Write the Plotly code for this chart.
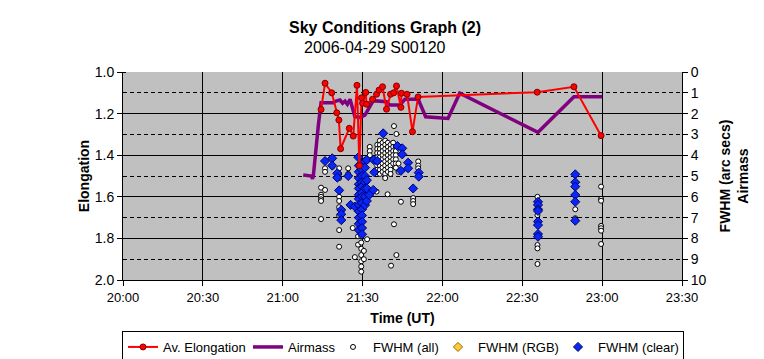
import pandas as pd
import plotly.graph_objects as go

DATE = "2006-04-29 "

title_text = "Sky Conditions Graph (2)"
subtitle_text = "2006-04-29 S00120"
x_tick_labels = ["20:00", "20:30", "21:00", "21:30", "22:00", "22:30", "23:00", "23:30"]

# Av. Elongation (left axis)
elong_time = ["21:14:24", "21:15:54", "21:18:24", "21:20:18", "21:21:06", "21:21:45", "21:25:00",
              "21:26:30", "21:27:54", "21:28:48", "21:29:36", "21:30:00", "21:31:12", "21:31:30",
              "21:33:45", "21:35:15", "21:36:12", "21:37:30", "21:39:00", "21:40:30", "21:41:42",
              "21:42:45", "21:44:24", "21:44:36", "21:46:42", "21:48:45", "21:50:51", "22:35:36",
              "22:49:24", "22:59:36"]
elong_value = [1.18, 1.054, 1.10, 1.196, 1.231, 1.369, 1.271,
               1.308, 1.064, 1.45, 1.124, 1.15, 1.098, 1.155,
               1.131, 1.107, 1.087, 1.071, 1.179, 1.107, 1.10,
               1.067, 1.17, 1.102, 1.107, 1.287, 1.12, 1.097,
               1.071, 1.306]

# Airmass (right axis)
airmass_time = ["21:07:42", "21:10:48", "21:11:12", "21:11:30", "21:13:24", "21:14:24", "21:19:00",
                "21:20:00", "21:21:30", "21:22:30", "21:23:24", "21:24:18", "21:25:18", "21:27:06",
                "21:29:00", "21:30:54", "21:34:00", "21:39:00", "21:40:12", "21:44:00", "21:45:54",
                "21:50:54", "21:53:42", "22:02:06", "22:06:30", "22:35:54", "22:49:24", "23:00:00"]
airmass_value = [4.95, 5.0, 5.14, 5.0, 2.55, 1.48, 1.48,
                 1.40, 1.35, 1.50, 1.40, 1.55, 1.31, 2.15,
                 2.18, 2.07, 1.38, 1.43, 1.59, 1.59, 1.31,
                 1.31, 2.15, 2.23, 1.02, 2.9, 1.19, 1.19]

# FWHM (all) - grouped by exposure time
fwhm_all_times = ["21:14:24", "21:15:54", "21:18:36", "21:21:12", "21:24:36", "21:26:18", "21:27:06",
                  "21:28:18", "21:29:30", "21:30:30", "21:31:42", "21:32:42", "21:35:30", "21:36:30",
                  "21:37:30", "21:38:30", "21:39:30", "21:40:30", "21:41:30", "21:42:30", "21:43:30",
                  "21:41:48", "21:42:42", "21:50:54", "21:49:00", "21:44:24", "21:40:42", "21:39:24",
                  "21:35:15", "22:35:42", "22:49:54", "22:59:36"]
fwhm_all_values = [
    [5.56, 5.90, 6.00, 6.12, 6.20, 7.07],
    [4.63, 4.80, 5.67],
    [4.55],
    [4.63, 4.90, 5.10, 6.00, 6.20, 6.50, 6.90, 7.60, 8.40],
    [4.63, 4.90],
    [7.50],
    [8.90],
    [7.90, 8.30],
    [4.3, 4.6, 4.9, 5.2, 5.5, 5.8, 6.1, 6.4, 6.7, 7.0, 7.3, 7.6, 7.9, 8.2, 8.5, 8.8, 9.1, 9.35, 9.6],
    [8.60, 9.00],
    [8.04],
    [3.60, 3.80, 4.00],
    [3.5, 3.7, 3.9, 4.1, 4.3, 4.5, 4.7],
    [3.3, 3.5, 3.7, 3.9, 4.1, 4.3, 4.5, 4.7, 4.9],
    [3.4, 3.6, 3.8, 4.0, 4.2, 4.4, 4.6, 4.8],
    [3.3, 3.5, 3.7, 3.9, 4.1, 4.3, 4.5, 4.7, 4.9, 5.1],
    [3.4, 3.6, 3.8, 4.0, 4.2, 4.4, 4.6, 4.8],
    [3.5, 3.7, 3.9, 4.1, 4.3, 4.5, 4.7, 4.9],
    [3.4, 3.6, 3.8, 4.0, 4.2, 4.4],
    [3.6, 3.8, 4.0, 4.2, 4.4, 4.6],
    [4.4, 4.8],
    [2.60, 7.32],
    [2.98, 8.80],
    [4.30, 4.50, 4.63],
    [6.06, 6.20, 6.35],
    [6.24],
    [9.31],
    [5.88],
    [5.75],
    [6.00, 6.88, 8.32, 8.48, 9.23],
    [6.60, 7.03],
    [5.51, 6.10, 6.19, 7.40, 7.51, 7.63, 8.27],
]

# FWHM (RGB) - no measurements in this run (legend entry only)
fwhm_rgb_times = [None]
fwhm_rgb_values = [None]

# FWHM (clear)
fwhm_clear_times = ["21:15:54", "21:18:36", "21:20:30", "21:24:36", "21:21:12", "21:22:00", "21:25:30",
                    "21:27:06", "21:28:24", "21:28:36", "21:29:48", "21:30:54", "21:31:36", "21:34:12",
                    "21:35:30", "21:34:24", "21:34:00", "21:32:30", "21:37:45", "21:43:06", "21:44:54",
                    "21:47:06", "21:44:24", "21:51:06", "21:49:00", "22:35:54", "22:49:54"]
fwhm_clear_values = [
    [4.28],
    [4.15, 4.50],
    [4.87, 5.08],
    [5.00],
    [5.69],
    [6.63, 6.84, 7.12],
    [6.39],
    [6.47],
    [4.10],
    [4.5, 4.8, 5.1, 5.4, 5.6, 5.9, 6.1, 6.4, 6.7, 7.0, 7.3, 7.6],
    [4.4, 4.7, 5.0, 5.3, 5.5, 5.8, 6.0, 6.3, 6.6, 6.9, 7.2, 7.5, 7.8],
    [4.3, 4.6, 5.0, 5.3, 5.6, 6.0, 6.4],
    [4.23, 5.2, 5.6, 6.2],
    [4.23],
    [4.28],
    [4.82],
    [5.67],
    [5.91],
    [2.95],
    [3.56],
    [3.67, 3.96],
    [4.36, 4.63],
    [4.75],
    [4.84, 5.03],
    [5.60],
    [6.24, 6.39, 6.60, 6.68, 7.19, 7.36, 7.79, 7.92],
    [4.92, 5.30, 5.51, 5.91, 6.24, 7.15],
]


def to_dt(times):
    return pd.to_datetime([DATE + t for t in times])


def flatten(times, groups):
    xs, ys = [], []
    for t, vals in zip(times, groups):
        for v in vals:
            xs.append(DATE + t)
            ys.append(v)
    return pd.to_datetime(xs) if xs else [], ys


FONT = "Liberation Sans, Arial, sans-serif"

fig = go.Figure()

# legend-only series (no data this night), attached to the main left axis
fig.add_trace(go.Scatter(
    x=fwhm_rgb_times, y=fwhm_rgb_values, name="FWHM (RGB)", mode="markers",
    marker=dict(symbol="diamond", size=7, color="#FFCC33", line=dict(color="#996600", width=1)),
    yaxis="y", legendrank=4, showlegend=True, legendwidth=75))

fig.add_trace(go.Scatter(
    x=to_dt(airmass_time), y=airmass_value, name="Airmass", mode="lines",
    line=dict(color="#800080", width=3.5),
    yaxis="y2", legendrank=2, legendwidth=40))

ax, ay = flatten(fwhm_all_times, fwhm_all_values)
fig.add_trace(go.Scatter(
    x=ax, y=ay, name="FWHM (all)", mode="markers",
    marker=dict(symbol="circle", size=5, color="#FFFFFF", line=dict(color="#000000", width=1)),
    yaxis="y2", legendrank=3, legendwidth=60))

cx, cy = flatten(fwhm_clear_times, fwhm_clear_values)
fig.add_trace(go.Scatter(
    x=cx, y=cy, name="FWHM (clear)", mode="markers",
    marker=dict(symbol="diamond", size=7, color="#0A28F5", line=dict(color="#000070", width=1)),
    yaxis="y2", legendrank=5, legendwidth=80))

# elongation drawn on a hidden overlay of the left axis so it sits on top
fig.add_trace(go.Scatter(
    x=to_dt(elong_time), y=elong_value, name="Av. Elongation", mode="lines+markers",
    line=dict(color="#FF0000", width=2),
    marker=dict(symbol="circle", size=6, color="#FF0000", line=dict(color="#800000", width=1)),
    yaxis="y3", legendrank=1, legendwidth=80))

tick_vals = to_dt([t + ":00" for t in x_tick_labels])

# the page adds an 8px body margin, so the figure is 8px smaller than the window
fig.update_layout(
    width=756, height=351,
    margin=dict(l=115, r=82, t=64, b=79, autoexpand=False),
    paper_bgcolor="#FFFFFF", plot_bgcolor="#C0C0C0",
    font=dict(family=FONT, size=13, color="#000000"),
    showlegend=True,
    legend=dict(orientation="h", xref="container", yref="container",
                x=0.5225, xanchor="center", y=0.0798, yanchor="top",
                bgcolor="#FFFFFF", bordercolor="#000000", borderwidth=1,
                font=dict(size=13, family=FONT), itemwidth=30, tracegroupgap=0),
    xaxis=dict(type="date", range=[tick_vals[0], tick_vals[-1]],
               tickvals=tick_vals, ticktext=x_tick_labels,
               showgrid=True, gridcolor="#000000", gridwidth=1,
               showline=True, linecolor="#000000", linewidth=1,
               ticks="outside", ticklen=5, tickcolor="#000000",
               tickfont=dict(size=13), zeroline=False, automargin=False,
               title=dict(text="<b>Time (UT)</b>", font=dict(size=14), standoff=9)),
    yaxis=dict(range=[2.0, 1.0], tickvals=[1.0, 1.2, 1.4, 1.6, 1.8, 2.0],
               ticktext=["1.0", "1.2", "1.4", "1.6", "1.8", "2.0"],
               showgrid=True, gridcolor="#000000", gridwidth=1,
               minor=dict(dtick=0.1, showgrid=True, griddash="4px,3px", gridcolor="#000000",
                          ticks="inside", ticklen=3, tickcolor="#000000"),
               showline=True, linecolor="#000000", linewidth=1,
               ticks="outside", ticklen=5, tickcolor="#000000",
               tickfont=dict(size=14), zeroline=False, automargin=False,
               title=dict(text="<b>Elongation</b>", font=dict(size=14), standoff=1)),
    yaxis2=dict(range=[10, 0], overlaying="y", side="right",
                tickvals=list(range(0, 11)), showgrid=False,
                showline=True, linecolor="#000000", linewidth=1,
                ticks="outside", ticklen=5, tickcolor="#000000",
                tickfont=dict(size=14), zeroline=False, automargin=False,
                title=dict(text="<b>FWHM (arc secs)<br>Airmass</b>", font=dict(size=14), standoff=14)),
    yaxis3=dict(range=[2.0, 1.0], overlaying="y", visible=False, showgrid=False, zeroline=False),
    annotations=[
        dict(text="<b>" + title_text + "</b>", xref="paper", yref="paper", x=0.469, y=1.0,
             yshift=45, showarrow=False, font=dict(size=16, family=FONT), xanchor="center", yanchor="middle"),
        dict(text=subtitle_text, xref="paper", yref="paper", x=0.451, y=1.0,
             yshift=25, showarrow=False, font=dict(size=16, family=FONT), xanchor="center", yanchor="middle"),
    ],
)

fig.write_html("out.html")
